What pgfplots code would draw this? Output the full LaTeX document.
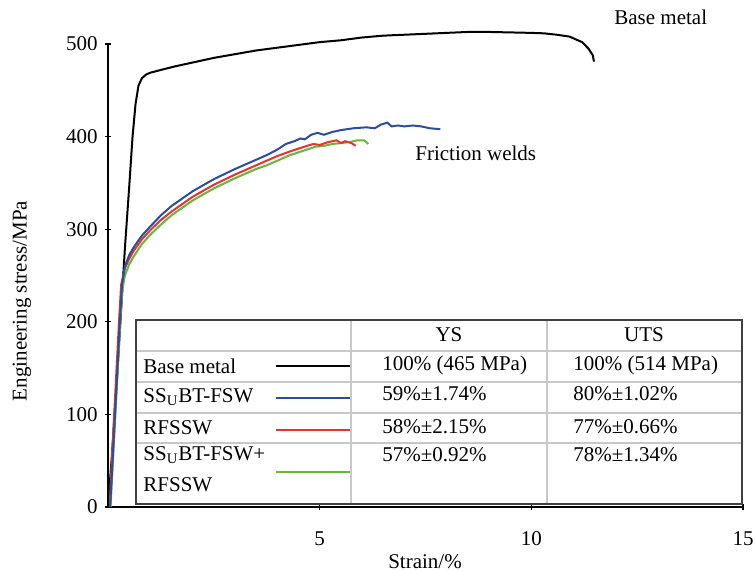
\documentclass[border=0pt]{standalone}
\usepackage{fontspec}
\setmainfont{Liberation Serif}
\usepackage{pgfplots}
\pgfplotsset{compat=1.18}
\definecolor{cblue}{HTML}{2A4DA0}
\definecolor{cred}{HTML}{E8322A}
\definecolor{cgreen}{HTML}{6AB43C}
\definecolor{tborder}{HTML}{404040}
\definecolor{tgrid}{HTML}{C8C8C8}
\begin{document}
\fontsize{10.5}{12.6}\selectfont
\begin{tikzpicture}
\begin{axis}[
  scale only axis, width=317.5pt, height=231.5pt,
  xmin=0, xmax=15, ymin=0, ymax=500,
  axis lines=left, axis line style={-, line width=0.6pt},
  xtick={5,10,15}, ytick={0,100,...,500},
  tick style={black, line width=0.6pt}, major tick length=3pt,
  xticklabel style={yshift=-7pt},
  /pgf/number format/assume math mode=true,
  ticklabel style={font=\fontsize{10.5}{12.6}\selectfont},
  clip=false,
]
\addplot[black, line width=1pt] coordinates {
(0,0) (0.1,60) (0.2,130) (0.3,205) (0.4,280) (0.5,345) (0.58,400) (0.65,435) (0.72,455) (0.8,463) (0.9,467) (1.0,469) (1.25,472) (1.6,476) (2.0,480) (2.5,485) (3.0,489) (3.5,493) (4.0,496) (4.5,499) (5.0,502) (5.5,504) (6.0,507) (6.5,509) (7.0,510) (7.5,511) (8.0,512) (8.5,513) (9.0,513) (9.5,512.5) (10.0,512) (10.3,511.5) (10.6,510) (10.9,508) (11.05,505) (11.2,502) (11.35,495) (11.45,488) (11.48,481)
};
\addplot[cgreen, line width=1pt] coordinates {
(0.06,0) (0.13,60) (0.21,130) (0.29,200) (0.34,235) (0.4,250) (0.5,262) (0.6,270) (0.8,284) (1.0,294) (1.25,305) (1.5,315) (1.75,323) (2.0,331) (2.5,344) (3.0,355) (3.5,365) (3.75,369) (4.0,374) (4.3,380) (4.5,383) (4.7,386) (4.9,389) (5.1,390) (5.3,392) (5.5,393) (5.7,394) (5.9,396) (6.05,396) (6.15,392)
};
\addplot[cred, line width=1pt] coordinates {
(0.04,0) (0.1,60) (0.18,130) (0.26,200) (0.31,240) (0.4,258) (0.5,268) (0.6,276) (0.8,289) (1.0,299) (1.25,310) (1.5,319) (1.75,327) (2.0,335) (2.5,348) (3.0,359) (3.5,369) (3.75,374) (4.0,379) (4.3,384) (4.5,387) (4.7,390) (4.85,392) (5.0,391) (5.2,394) (5.4,396) (5.5,393) (5.6,395) (5.75,393) (5.85,390)
};
\addplot[cblue, line width=1pt] coordinates {
(0.05,0) (0.12,60) (0.2,130) (0.28,200) (0.33,240) (0.4,260) (0.5,272) (0.6,280) (0.8,293) (1.0,303) (1.25,315) (1.5,325) (1.75,333) (2.0,341) (2.5,354) (3.0,365) (3.5,375) (3.75,380) (4.0,386) (4.2,392) (4.4,395) (4.55,398) (4.65,397) (4.8,402) (4.95,404) (5.1,402) (5.3,405) (5.5,407) (5.8,409) (6.1,410) (6.3,409) (6.45,413) (6.6,415) (6.7,411) (6.85,412) (7.0,411) (7.2,412) (7.4,411) (7.6,409) (7.85,408)
};
\end{axis}
% annotations
\node[anchor=west, inner sep=0pt] at (253pt,245pt) {Base metal};
\node[anchor=west, inner sep=0pt] at (153.5pt,177pt) {Friction welds};
% axis labels
\node[rotate=90, inner sep=0pt] at (-43pt,103pt) {Engineering stress/MPa};
\node[inner sep=0pt] at (158.5pt,-27.5pt) {Strain/\%};
% table
\draw[tgrid, line width=0.6pt] (14pt,78pt) -- (317pt,78pt);
\draw[tgrid, line width=0.6pt] (14pt,62.5pt) -- (317pt,62.5pt);
\draw[tgrid, line width=0.6pt] (14pt,47pt) -- (317pt,47pt);
\draw[tgrid, line width=0.6pt] (14pt,32pt) -- (317pt,32pt);
\draw[tgrid, line width=0.6pt] (121.5pt,1.5pt) -- (121.5pt,93.5pt);
\draw[tgrid, line width=0.6pt] (219.5pt,1.5pt) -- (219.5pt,93.5pt);
\draw[tborder, line width=0.8pt] (14pt,1.5pt) rectangle (317pt,93.5pt);
\node at (170.5pt,86pt) {YS};
\node at (268pt,86pt) {UTS};
\node[anchor=west, inner sep=0pt] at (17.5pt,70.5pt) {Base metal};
\node[anchor=west, inner sep=0pt] at (17.5pt,55pt) {SS\textsubscript{U}BT-FSW};
\node[anchor=west, inner sep=0pt] at (17.5pt,39.5pt) {RFSSW};
\node[anchor=west, inner sep=0pt] at (17.5pt,26pt) {SS\textsubscript{U}BT-FSW+};
\node[anchor=west, inner sep=0pt] at (17.5pt,11pt) {RFSSW};
\draw[black, line width=1pt] (84pt,70.5pt) -- (121pt,70.5pt);
\draw[cblue, line width=1pt] (84pt,54.5pt) -- (121pt,54.5pt);
\draw[cred, line width=1pt] (84pt,38.5pt) -- (121pt,38.5pt);
\draw[cgreen, line width=1pt] (84pt,17.5pt) -- (121pt,17.5pt);
\node[anchor=west, inner sep=0pt] at (137pt,71pt) {100\% (465 MPa)};
\node[anchor=west, inner sep=0pt] at (137pt,56.5pt) {59\%±1.74\%};
\node[anchor=west, inner sep=0pt] at (137pt,40pt) {58\%±2.15\%};
\node[anchor=west, inner sep=0pt] at (137pt,26pt) {57\%±0.92\%};
\node[anchor=west, inner sep=0pt] at (232.5pt,71pt) {100\% (514 MPa)};
\node[anchor=west, inner sep=0pt] at (232.5pt,56.5pt) {80\%±1.02\%};
\node[anchor=west, inner sep=0pt] at (232.5pt,40pt) {77\%±0.66\%};
\node[anchor=west, inner sep=0pt] at (232.5pt,26pt) {78\%±1.34\%};
\pgfresetboundingbox
\path (-54pt,-32pt) rectangle (323.5pt,253.5pt);
\end{tikzpicture}
\end{document}
